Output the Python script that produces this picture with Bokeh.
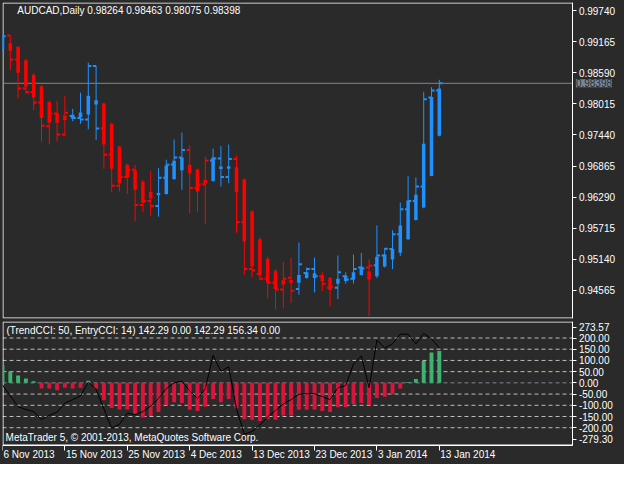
from bokeh.plotting import figure
from bokeh.layouts import column
from bokeh.models import (ColumnDataSource, FixedTicker, Label, Range1d, PrintfTickFormatter,
                          LinearAxis)
from bokeh.embed import file_html
from bokeh.resources import INLINE
from bokeh.core.properties import value
import datetime as dt

symbol = "AUDCAD"
timeframe = "Daily"

dates = ["2013-11-06", "2013-11-07", "2013-11-08", "2013-11-10", "2013-11-11", "2013-11-12",
         "2013-11-13", "2013-11-14", "2013-11-15", "2013-11-17", "2013-11-18", "2013-11-19",
         "2013-11-20", "2013-11-21", "2013-11-22", "2013-11-24", "2013-11-25", "2013-11-26",
         "2013-11-27", "2013-11-28", "2013-11-29", "2013-12-01", "2013-12-02", "2013-12-03",
         "2013-12-04", "2013-12-05", "2013-12-06", "2013-12-08", "2013-12-09", "2013-12-10",
         "2013-12-11", "2013-12-12", "2013-12-13", "2013-12-15", "2013-12-16", "2013-12-17",
         "2013-12-18", "2013-12-19", "2013-12-20", "2013-12-22", "2013-12-23", "2013-12-24",
         "2013-12-26", "2013-12-27", "2013-12-29", "2013-12-30", "2013-12-31", "2014-01-02",
         "2014-01-03", "2014-01-05", "2014-01-06", "2014-01-07", "2014-01-08", "2014-01-09",
         "2014-01-10", "2014-01-12", "2014-01-13"]

bar_open = [0.99123, 0.99285, 0.98840, 0.98301, 0.98236, 0.98043, 0.97603, 0.97836, 0.97450, 0.97791,
            0.97755, 0.97725, 0.98718, 0.97558, 0.97072, 0.96501, 0.96663, 0.96796, 0.96142, 0.96214,
            0.96124, 0.96645, 0.96892, 0.97023, 0.97162, 0.96455, 0.96527, 0.96969, 0.97005, 0.96663,
            0.96994, 0.95825, 0.94954, 0.94864, 0.94774, 0.94702, 0.94576, 0.94792, 0.94583, 0.94882,
            0.94954, 0.94823, 0.94607, 0.94607, 0.94823, 0.94774, 0.94985, 0.94985, 0.95026, 0.95206,
            0.95327, 0.95602, 0.96064, 0.96214, 0.96483, 0.98133, 0.98264]
bar_close = [0.99272, 0.98840, 0.98301, 0.98236, 0.98043, 0.97612, 0.97836, 0.97450, 0.97851, 0.97755,
             0.97725, 0.98718, 0.97558, 0.97072, 0.96501, 0.96663, 0.96796, 0.96142, 0.96214, 0.96124,
             0.96645, 0.96886, 0.97023, 0.97162, 0.96455, 0.96527, 0.96969, 0.97005, 0.96663, 0.96994,
             0.95825, 0.94954, 0.94931, 0.94774, 0.94702, 0.94576, 0.94774, 0.94553, 0.95044, 0.94954,
             0.94823, 0.94684, 0.94625, 0.94895, 0.94763, 0.94954, 0.94967, 0.95015, 0.95206, 0.95332,
             0.95602, 0.96064, 0.96214, 0.96483, 0.98103, 0.98265, 0.98398]
wick_high = [0.99303, 0.99285, 0.99081, 0.98853, 0.98583, 0.98367, 0.98074, 0.98074, 0.98169, 0.97923,
             0.98223, 0.98781, 0.98718, 0.98043, 0.97666, 0.97234, 0.96904, 0.96886, 0.96604, 0.96766,
             0.96825, 0.96982, 0.97354, 0.97486, 0.97246, 0.96814, 0.97041, 0.97185, 0.97234, 0.97264,
             0.97054, 0.96635, 0.96046, 0.95542, 0.95183, 0.94954, 0.95087, 0.95165, 0.95447, 0.94985,
             0.95165, 0.94907, 0.94805, 0.95206, 0.94895, 0.95224, 0.95255, 0.95134, 0.95764, 0.95345,
             0.95674, 0.96185, 0.96676, 0.96653, 0.98241, 0.98326, 0.98463]
wick_low = [0.98979, 0.98642, 0.98121, 0.98205, 0.97899, 0.97315, 0.97264, 0.97324, 0.97414, 0.97696,
            0.97648, 0.97545, 0.97347, 0.96814, 0.96383, 0.96393, 0.96347, 0.95843, 0.96005, 0.95944,
            0.95926, 0.96334, 0.96604, 0.96424, 0.95992, 0.96023, 0.95782, 0.96573, 0.96483, 0.96545,
            0.95627, 0.94846, 0.94805, 0.94745, 0.94414, 0.94206, 0.94224, 0.94324, 0.94476, 0.94774,
            0.94522, 0.94548, 0.94265, 0.94396, 0.94684, 0.94684, 0.94835, 0.94085, 0.94787, 0.94985,
            0.94954, 0.95195, 0.95494, 0.95854, 0.96082, 0.96676, 0.97414]
ha_top = [0.99285, 0.99141, 0.99074, 0.98826, 0.98556, 0.98344, 0.98052, 0.97845, 0.97800, 0.97815,
          0.97858, 0.98169, 0.98085, 0.98025, 0.97648, 0.97225, 0.96886, 0.96784, 0.96573, 0.96383,
          0.96365, 0.96874, 0.96964, 0.97023, 0.96886, 0.96802, 0.96604, 0.97023, 0.96856, 0.96861,
          0.96843, 0.96617, 0.96023, 0.95507, 0.95147, 0.94925, 0.94745, 0.94751, 0.94846, 0.94895,
          0.94877, 0.94846, 0.94792, 0.94774, 0.94835, 0.94895, 0.95003, 0.94907, 0.95183, 0.95224,
          0.95327, 0.95764, 0.96226, 0.96334, 0.97279, 0.98146, 0.98301]
ha_bottom = [0.99033, 0.99002, 0.98592, 0.98340, 0.98133, 0.97755, 0.97666, 0.97666, 0.97719, 0.97743,
             0.97773, 0.97818, 0.98007, 0.97264, 0.96814, 0.96545, 0.96663, 0.96424, 0.96185, 0.96262,
             0.96322, 0.96347, 0.96622, 0.96784, 0.96725, 0.96393, 0.96550, 0.96586, 0.96811, 0.96814,
             0.96383, 0.95465, 0.95003, 0.94835, 0.94702, 0.94583, 0.94666, 0.94697, 0.94702, 0.94787,
             0.94787, 0.94727, 0.94565, 0.94684, 0.94733, 0.94763, 0.94846, 0.94763, 0.94823, 0.95003,
             0.95134, 0.95255, 0.95507, 0.95866, 0.96095, 0.96681, 0.97426]
trend = ["up", "dn", "dn", "dn", "dn", "dn", "dn", "dn", "dn", "up",
         "up", "up", "up", "dn", "dn", "dn", "dn", "dn", "dn", "dn",
         "up", "up", "up", "up", "dn", "dn", "dn", "up", "up", "up",
         "dn", "dn", "dn", "dn", "dn", "dn", "dn", "dn", "up", "up",
         "up", "dn", "dn", "up", "up", "up", "up", "dn", "up", "up",
         "up", "up", "up", "up", "up", "up", "up"]
last_low = 0.98075

trend_cci = [80, 51, 33, 19, 7, -25, -25, -33, -22, -25,
             -22, 9, -25, -77, -112, -119, -119, -138, -154, -148,
             -130, -99, -87, -90, -120, -126, -107, -72, -87, -72,
             -113, -162, -164, -170, -162, -164, -145, -145, -120, -120,
             -119, -126, -130, -109, -109, -94, -90, -99, -68, -62,
             -51, -25, 4, 17, 97, 135, 142.29]
entry_cci = [-10, -58, -106, -119, -128, -164, -145, -130, -90, -75,
             -58, 3, -29, -116, -203, -184, -135, -142, -128, -104,
             -70, -26, 0, 7, -36, -70, -26, 123, 51, 72,
             -116, -229, -217, -188, -152, -123, -94, -75, -51, -48,
             -48, -61, -75, -22, -12, 84, 120, -22, 191, 155,
             174, 217, 217, 174, 220, 196, 156.34]

price_ticks = [0.94565, 0.95140, 0.95715, 0.96290, 0.96865, 0.97440, 0.98015, 0.98590, 0.99165, 0.99740]
price_min, price_max = 0.94038, 0.99896
cci_levels = [200, 150, 100, 50, -50, -100, -150, -200]
cci_min, cci_max = -279.30, 273.57
trend_period, entry_period = 50, 14

# ---------------- style / layout ----------------
BG = "#2a2a2a"
UP, DN = "#1e90ff", "#ff0000"
H_UP, H_DN = "#3cb371", "#dc143c"
LEVEL = "#778899"
GRID = "#bdbdbd"
FONT = "Liberation Sans"
FS = "10px"
W = 624
PXB = 7.8                      # pixels per bar
FRAME_W = W - 2
XR = Range1d(0.0, FRAME_W / PXB)
AX = 73.125                    # bar position of the price scale
MAIN_FH = 316
IND_FH = 124
DATE_H = 19

n = len(dates)
xs = list(range(n))
cols = [UP if t == "up" else DN for t in trend]
src = ColumnDataSource(dict(
    x=xs, xl=[i - 0.4 for i in xs], xr=[i + 0.4 for i in xs],
    o=bar_open, c=bar_close, h=wick_high, l=wick_low,
    bt=ha_top, bb=ha_bottom, color=cols))


def style_axis(ax):
    ax.axis_line_color = "white"
    ax.major_tick_line_color = "white"
    ax.minor_tick_line_color = None
    ax.major_tick_in = 0
    ax.major_tick_out = 4
    ax.major_label_text_color = "white"
    ax.major_label_text_font = FONT
    ax.major_label_text_font_size = FS
    ax.major_label_standoff = 2


def base_fig(h, yr, top):
    f = figure(width=W, height=h, output_backend="svg", toolbar_location=None,
               x_range=XR, y_range=yr, x_axis_location=None, y_axis_location=None,
               min_border_left=2, min_border_right=0, min_border_top=top, min_border_bottom=0,
               background_fill_color=BG, border_fill_color=BG, outline_line_color=None)
    f.xgrid.visible = False
    f.ygrid.visible = False
    return f


def panel_border(f, lo, hi, unit):
    """white frame lines (left, top, bottom) of an MT5 sub-window, up to the price scale"""
    x_in = XR.start + 0.5 / PXB
    top, bot = hi - 0.5 * unit, lo + 0.5 * unit
    f.segment(x0=[x_in, x_in, x_in], y0=[bot, top, bot], x1=[x_in, AX, AX], y1=[top, top, bot],
              line_color="white", line_width=1)


# ---------------- main price panel ----------------
p = base_fig(MAIN_FH + 4, Range1d(price_min, price_max), 2)
p.min_border_bottom = 2
ppx = (price_max - price_min) / MAIN_FH
panel_border(p, price_min, price_max, ppx)
pax = LinearAxis(fixed_location=AX, bounds=(price_min, price_max),
                 ticker=FixedTicker(ticks=price_ticks), formatter=PrintfTickFormatter(format="%.5f"))
style_axis(pax)
p.add_layout(pax, "right")

last = bar_close[-1]
p.segment(x0=[XR.start], y0=[last], x1=[AX], y1=[last], line_color=LEVEL, line_width=1)

p.segment(x0="x", y0="l", x1="x", y1="h", line_color="color", line_width=1, source=src)
p.segment(x0="xl", y0="o", x1="x", y1="o", line_color="color", line_width=2, source=src)
p.segment(x0="x", y0="c", x1="xr", y1="c", line_color="color", line_width=2, source=src)
p.vbar(x="x", width=0.45, top="bt", bottom="bb", fill_color="color", line_color=None, source=src)

p.add_layout(Label(x=AX, y=last, x_offset=3, text=f"{last:.5f}", text_baseline="middle",
                   text_align="left", text_color="#2a2a2a", text_font=FONT, text_font_size=FS,
                   background_fill_color=LEVEL))
hdr = f"{symbol},{timeframe}  {bar_open[-1]:.5f} {wick_high[-1]:.5f} {last_low:.5f} {last:.5f}"
p.add_layout(Label(x=1.9, y=price_max - 7.5 * ppx, text=hdr, text_baseline="middle",
                   text_color="white", text_font=FONT, text_font_size=FS))

# ---------------- indicator panel (with the date strip below) ----------------
upp = (cci_max - cci_min) / IND_FH
q = base_fig(IND_FH + DATE_H + 1, Range1d(cci_min - DATE_H * upp, cci_max), 1)
q.segment(x0=[XR.start] * len(cci_levels), y0=cci_levels, x1=[AX] * len(cci_levels), y1=cci_levels,
          line_color=GRID, line_dash="4 3", line_width=1)
q.segment(x0=[XR.start], y0=[0], x1=[AX], y1=[0], line_color=LEVEL, line_dash="4 3", line_width=1)
panel_border(q, cci_min, cci_max, upp)

yax = LinearAxis(fixed_location=AX, bounds=(cci_min, cci_max),
                 ticker=FixedTicker(ticks=[249] + cci_levels[:4] + [0] + cci_levels[4:] + [-252]),
                 formatter=PrintfTickFormatter(format="%.2f"))
style_axis(yax)
yax.major_label_overrides = {249: f"{cci_max:.2f}", -252: f"{cci_min:.2f}"}
q.add_layout(yax, "right")

tick_idx = [i for i in xs if i % 8 == 0]
xax = LinearAxis(fixed_location=cci_min, bounds=(XR.start, AX), ticker=FixedTicker(ticks=tick_idx))
style_axis(xax)
xax.major_tick_out = 5
xax.major_label_text_color = None
q.add_layout(xax, "below")

hsrc = ColumnDataSource(dict(x=xs, v=trend_cci, e=entry_cci,
                             color=[H_UP if v > 0 else H_DN for v in trend_cci]))
q.vbar(x="x", width=0.5, top="v", bottom=0, fill_color="color", line_color=None, source=hsrc)
q.line(x="x", y="e", line_color="black", line_width=1, source=hsrc)

ihdr = (f"(TrendCCI: {trend_period}, EntryCCI: {entry_period})  {trend_cci[-1]:.2f} 0.00 "
        f"{trend_cci[-1]:.2f} {entry_cci[-1]:.2f} 0.00")
q.add_layout(Label(x=0.5, y=cci_max - 9 * upp, text=ihdr, text_baseline="middle",
                   text_color="white", text_font=FONT, text_font_size=FS))
q.add_layout(Label(x=0.4, y=cci_min + 8 * upp, text="MetaTrader 5, © 2001-2013, MetaQuotes Software Corp.",
                   text_baseline="middle", text_color="white", text_font=FONT, text_font_size=FS))

date_labels = []
for i in tick_idx:
    d = dt.date.fromisoformat(dates[i])
    date_labels.append(f"{d.day} {d.strftime('%b %Y')}")
dsrc = ColumnDataSource(dict(x=tick_idx, y=[cci_min - 8.5 * upp] * len(tick_idx), t=date_labels))
q.text(x="x", y="y", text="t", source=dsrc, x_offset=1, text_align="left", text_baseline="middle",
       text_color="white", text_font=value(FONT), text_font_size=value(FS))

layout = column(p, q, spacing=0, styles={"background-color": BG})
open("out.html", "w").write(file_html(layout, INLINE))
